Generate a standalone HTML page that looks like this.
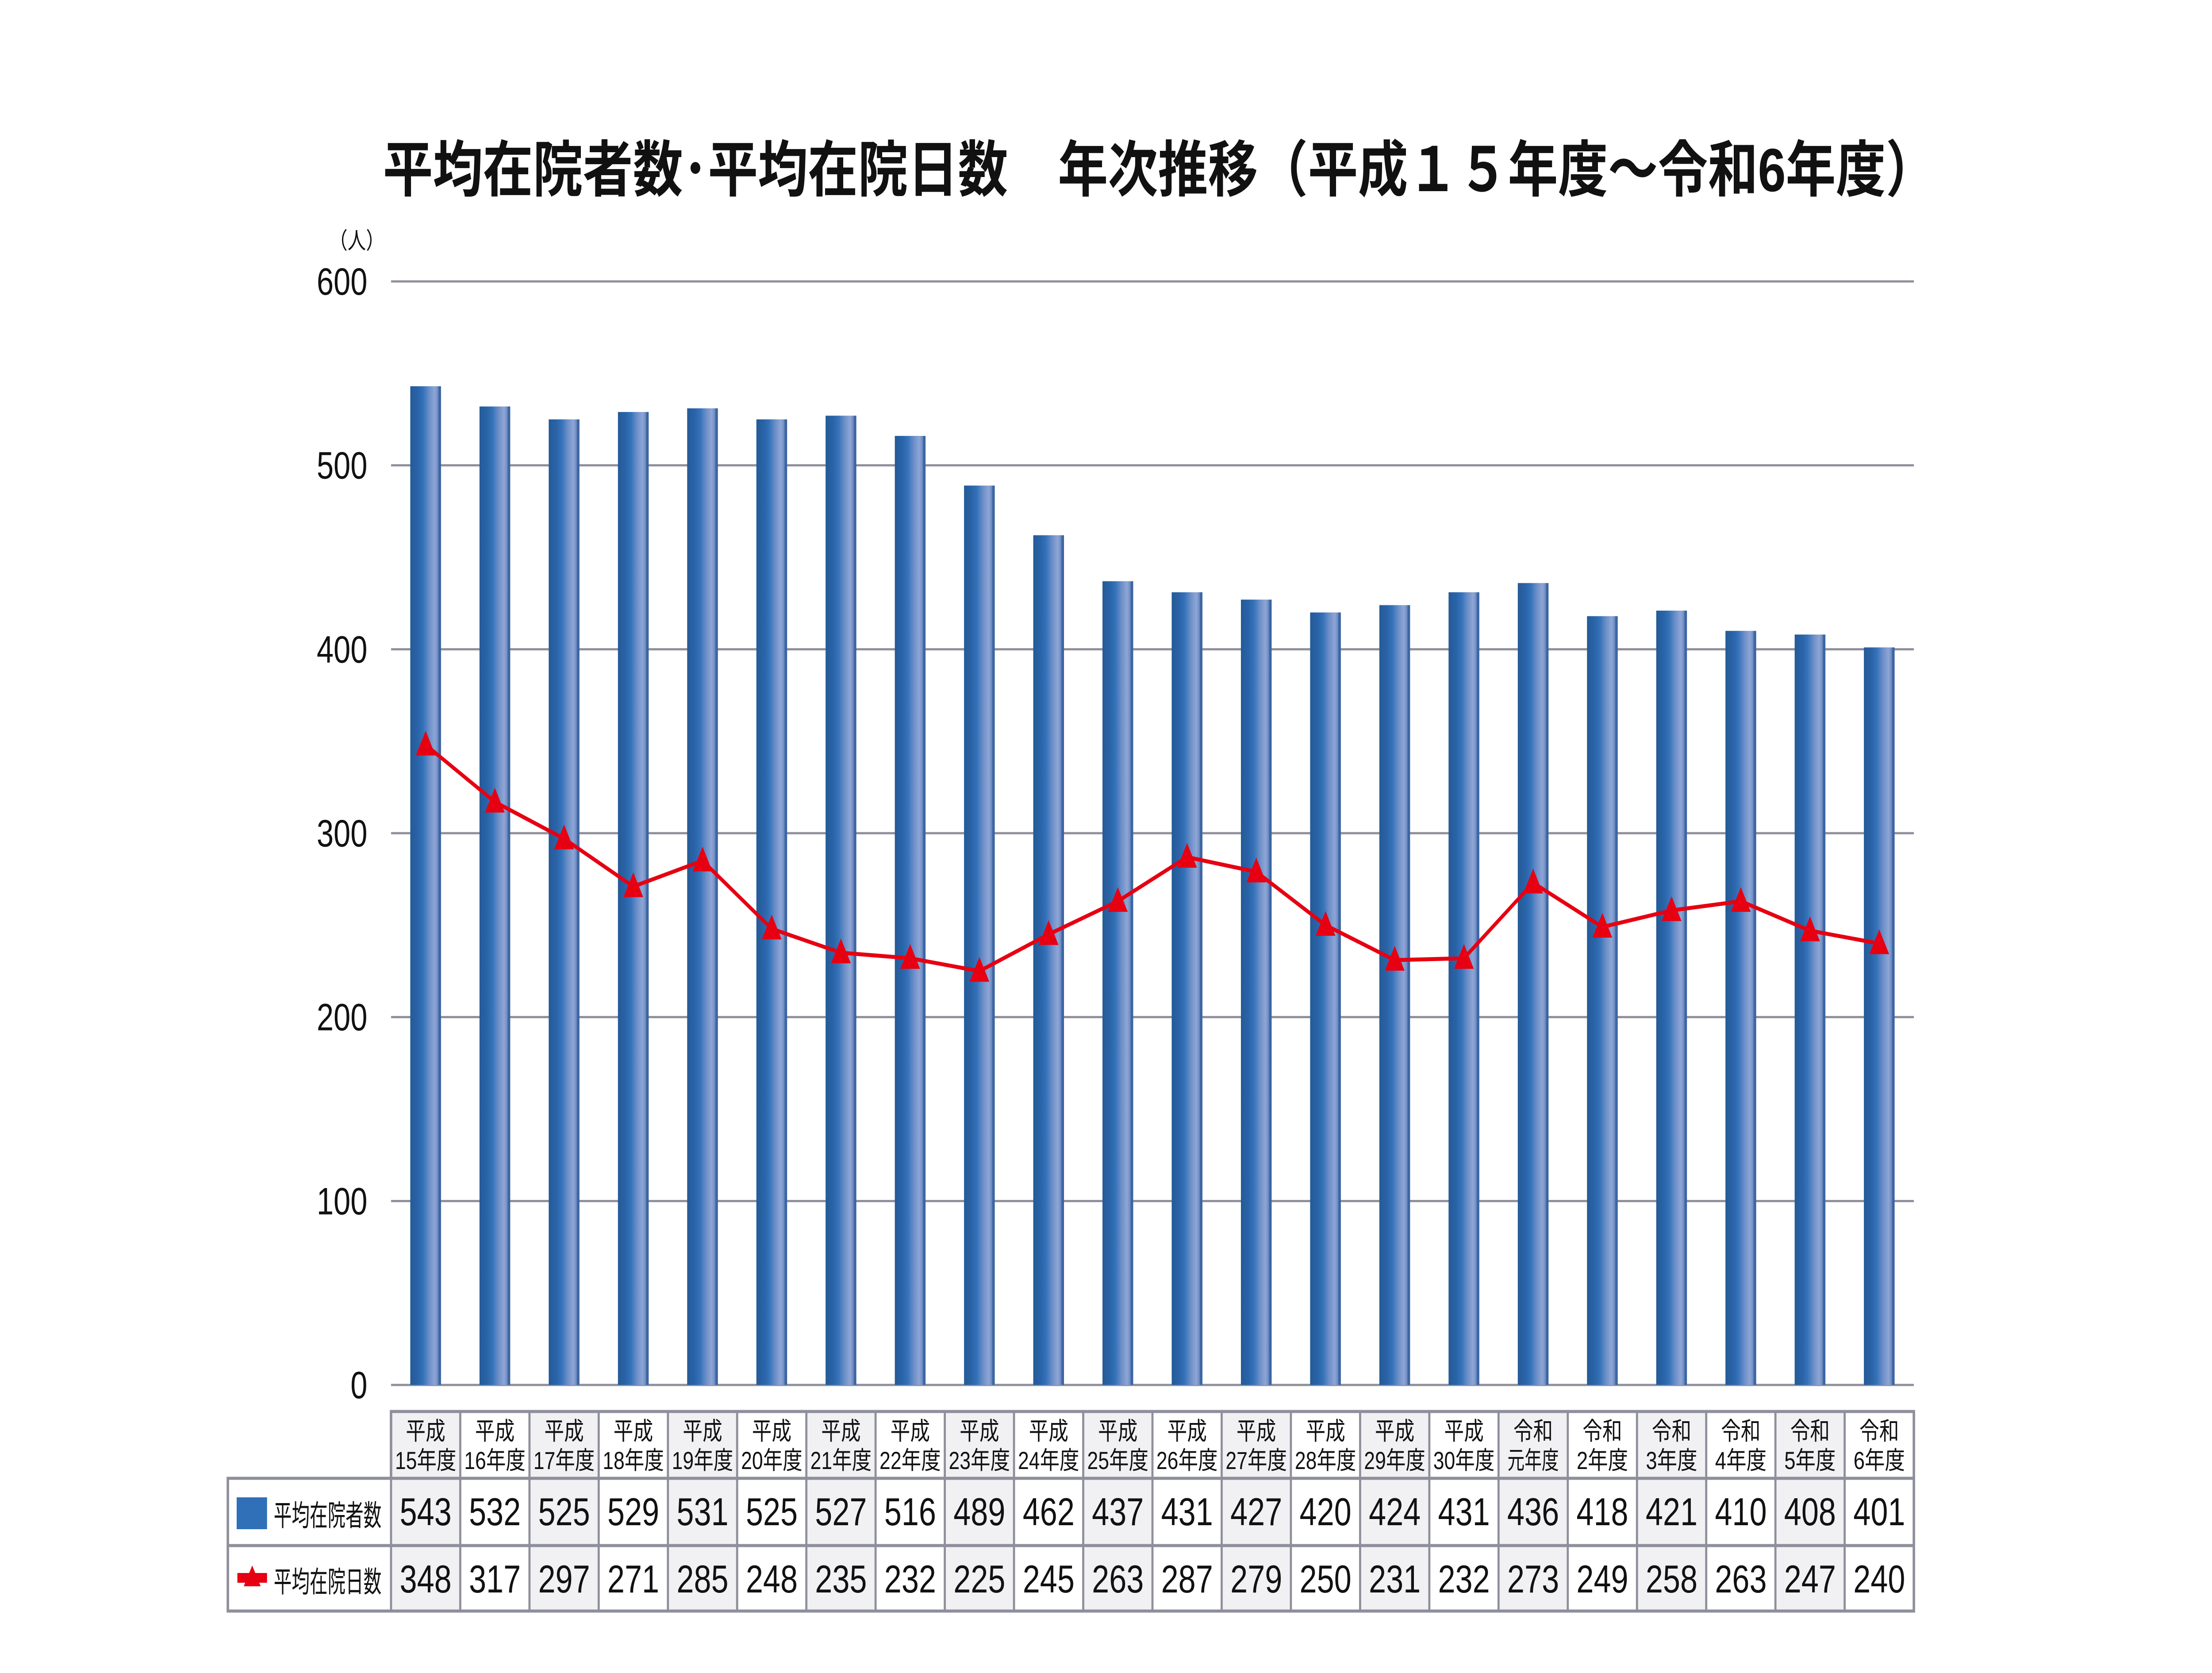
<!DOCTYPE html>
<html lang="ja">
<head>
<meta charset="utf-8">
<title>平均在院者数・平均在院日数 年次推移</title>
<style>
  html, body { margin: 0; padding: 0; background: #ffffff; width: 100%; height: 100%; overflow: hidden; }
  svg { display: block; position: absolute; left: 0; top: 0; }
  text { font-family: "Liberation Sans", "Noto Sans CJK JP", sans-serif; fill: #111; }
</style>
</head>
<body>
<svg id="chart" xmlns="http://www.w3.org/2000/svg" width="100%" height="100%" viewBox="0 0 6262 3781" preserveAspectRatio="none">
  <defs>
    <linearGradient id="barGrad" x1="0" y1="0" x2="1" y2="0">
      <stop offset="0" stop-color="#245a97"/>
      <stop offset="0.25" stop-color="#2a64a8"/>
      <stop offset="0.42" stop-color="#3472ba"/>
      <stop offset="0.62" stop-color="#6d8fc8"/>
      <stop offset="0.8" stop-color="#8ea6d6"/>
      <stop offset="0.9" stop-color="#6f8cc2"/>
      <stop offset="0.93" stop-color="#3e67a3"/>
      <stop offset="1" stop-color="#3a639f"/>
    </linearGradient>
  </defs>
  <text x="1084" y="432" font-size="138" font-weight="bold" textLength="4396" lengthAdjust="spacingAndGlyphs">平均在院者数･平均在院日数　年次推移（平成１５年度～令和6年度）</text>
  <text x="1010" y="562" font-size="52" text-anchor="middle">（人）</text>
  <g id="grid"></g>
  <g id="yticks"></g>
  <g id="bars"></g>
  <g id="line"></g>
  <g id="table"></g>
</svg>
<script>
const categoriesTop = ["平成","平成","平成","平成","平成","平成","平成","平成","平成","平成","平成","平成","平成","平成","平成","平成","令和","令和","令和","令和","令和","令和"];
const categoriesBottom = ["15年度","16年度","17年度","18年度","19年度","20年度","21年度","22年度","23年度","24年度","25年度","26年度","27年度","28年度","29年度","30年度","元年度","2年度","3年度","4年度","5年度","6年度"];
const patients = [543,532,525,529,531,525,527,516,489,462,437,431,427,420,424,431,436,418,421,410,408,401];
const days = [348,317,297,271,285,248,235,232,225,245,263,287,279,250,231,232,273,249,258,263,247,240];
const yTicks = [0,100,200,300,400,500,600];
const seriesNames = ["平均在院者数","平均在院日数"];

const NS = "http://www.w3.org/2000/svg";
const PLOT_L = 1107, PLOT_R = 5418, Y0 = 3130, Y600 = 636, Y_MAX = 600;
const SLOT = (PLOT_R - PLOT_L) / categoriesBottom.length;
function xCenter(i) { return PLOT_L + SLOT * (i + 0.5); }
function yScale(v) { return Y0 - (v / Y_MAX) * (Y0 - Y600); }
function mk(tag, attrs, parent) {
  const el = document.createElementNS(NS, tag);
  for (const k in attrs) el.setAttribute(k, attrs[k]);
  parent.appendChild(el);
  return el;
}
const grid = document.getElementById('grid');
const yt = document.getElementById('yticks');
yTicks.forEach(function (t) {
  const ln = mk('line', {x1: PLOT_L, x2: PLOT_R, y1: yScale(t), y2: yScale(t), stroke: '#8e8f9b', 'stroke-width': 5}, grid);
  
  
  const tx = mk('text', {x: 1040, y: yScale(t) + 30, 'font-size': 86, 'text-anchor': 'end'}, yt);
  
  
  tx.textContent = String(t);
});
const bars = document.getElementById('bars');
const BW = 87;
patients.forEach(function (v, i) {
  const r = mk('rect', {x: xCenter(i) - BW / 2, y: yScale(v), width: BW, height: Y0 - yScale(v), fill: 'url(#barGrad)'}, bars);
  
  
});
const line = document.getElementById('line');
const pts = days.map(function (v, i) { return xCenter(i) + ',' + yScale(v); }).join(' ');
const pl = mk('polyline', {points: pts, fill: 'none', stroke: '#e60012', 'stroke-width': 9, 'stroke-linejoin': 'round'}, line);


const TS = 28;
days.forEach(function (v, i) {
  const cx = xCenter(i), cy = yScale(v);
  const m = mk('polygon', {points: (cx) + ',' + (cy - TS - 4) + ' ' + (cx - TS) + ',' + (cy + TS - 4) + ' ' + (cx + TS) + ',' + (cy + TS - 4), fill: '#e60012'}, line);
  
  
});
const tbl = document.getElementById('table');
const T_L = 645, H_TOP = 3190, R1 = 3341, R2 = 3493, T_B = 3641;
const BORDER = '#8e8f9b';
categoriesBottom.forEach(function (c, i) {
  const x0 = PLOT_L + SLOT * i;
  if (i % 2 === 0) {
    const bg = mk('rect', {x: x0, y: H_TOP, width: SLOT, height: T_B - H_TOP, fill: '#f1f1f4'}, tbl);
    
    
  }
  const t1 = mk('text', {x: x0 + SLOT / 2, y: 3254, 'font-size': 56, 'text-anchor': 'middle'}, tbl);
  
  
  t1.textContent = categoriesTop[i];
  const t2 = mk('text', {x: x0 + SLOT / 2, y: 3320, 'font-size': 56, 'text-anchor': 'middle', textLength: Math.min(SLOT - 14, 56 * (c.length <= 3 ? 2.6 : 3.1)), lengthAdjust: 'spacingAndGlyphs'}, tbl);
  
  
  t2.textContent = c;
  const v1 = mk('text', {x: x0 + SLOT / 2, y: R1 + 106, 'font-size': 88, 'text-anchor': 'middle'}, tbl);
  
  
  v1.textContent = String(patients[i]);
  const v2 = mk('text', {x: x0 + SLOT / 2, y: R2 + 106, 'font-size': 88, 'text-anchor': 'middle'}, tbl);
  
  
  v2.textContent = String(days[i]);
});
const S = {stroke: BORDER, 'stroke-width': 7, fill: 'none'};
const hdr = mk('rect', Object.assign({x: PLOT_L, y: H_TOP, width: PLOT_R - PLOT_L, height: R1 - H_TOP}, S), tbl);


const body = mk('rect', Object.assign({x: T_L, y: R1, width: PLOT_R - T_L, height: T_B - R1}, S), tbl);


const mid = mk('line', {x1: T_L, x2: PLOT_R, y1: R2, y2: R2, stroke: BORDER, 'stroke-width': 7}, tbl);


for (let i = 0; i <= categoriesBottom.length; i++) {
  const x = PLOT_L + SLOT * i;
  const vl = mk('line', {x1: x, x2: x, y1: H_TOP, y2: T_B, stroke: BORDER, 'stroke-width': 6}, tbl);
  
  
}
const lg1 = mk('rect', {x: 670, y: 3384, width: 86, height: 72, fill: '#3070b8'}, tbl);


const lt1 = mk('text', {x: 775, y: 3448, 'font-size': 66, textLength: 305, lengthAdjust: 'spacingAndGlyphs'}, tbl);


lt1.textContent = seriesNames[0];
const lgl = mk('rect', {x: 672, y: 3555, width: 84, height: 22, fill: '#e60012'}, tbl);


const lgm = mk('polygon', {points: '714,3538 690,3585 738,3585', fill: '#e60012'}, tbl);


const lt2 = mk('text', {x: 775, y: 3598, 'font-size': 66, textLength: 305, lengthAdjust: 'spacingAndGlyphs'}, tbl);


lt2.textContent = seriesNames[1];
</script>
</body>
</html>
